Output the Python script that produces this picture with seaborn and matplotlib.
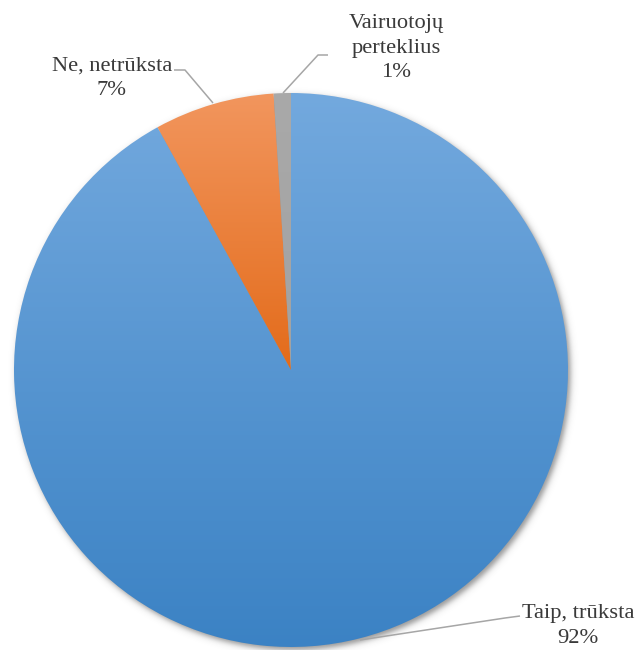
import numpy as np
import matplotlib
matplotlib.use("Agg")
import matplotlib.pyplot as plt
import seaborn as sns
from matplotlib.colors import LinearSegmentedColormap

# Survey answers: is there a shortage of drivers?
labels = ["Taip, trūksta", "Ne, netrūksta", "Vairuotojų\nperteklius"]
shares = [92, 7, 1]
top_colors = ["#73A9DE", "#F2965E", "#A9A9A9"]
bottom_colors = ["#3B82C4", "#E36B1A", "#A2A2A2"]

sns.set_theme(style="white")
plt.rcParams["font.family"] = ["Liberation Serif", "DejaVu Serif"]

W, H = 639, 650
fig = plt.figure(figsize=(W / 100, H / 100), dpi=100)
ax = fig.add_axes([0, 0, 1, 1])

cx, cy, r = 291.0, H - 370.0, 277.0

wedges, _ = ax.pie(
    shares,
    startangle=90,
    counterclock=False,
    center=(cx, cy),
    radius=r,
    wedgeprops=dict(linewidth=0),
)
ax.set_xlim(0, W)
ax.set_ylim(0, H)
ax.set_aspect("equal")
ax.axis("off")

# soft drop shadow under the pie, offset to the lower right
yy, xx = np.mgrid[0:H, 0:W] + 0.5
d = np.hypot(xx - (cx + 2.5), yy - (cy - 3.0))
shadow = 0.55 / (1.0 + np.exp((d - r) / 1.8))
rgba = np.zeros((H, W, 4))
rgba[..., :3] = 0.25
rgba[..., 3] = shadow
ax.imshow(rgba, extent=(0, W, 0, H), origin="lower", zorder=0.5, interpolation="bilinear")

# vertical gradient fill for each wedge
for w, ctop, cbot in zip(wedges, top_colors, bottom_colors):
    w.set_facecolor("none")
    w.set_zorder(1)
    verts = w.get_path().vertices
    y0, y1 = verts[:, 1].min(), verts[:, 1].max()
    x0, x1 = verts[:, 0].min(), verts[:, 0].max()
    cmap = LinearSegmentedColormap.from_list("g", [cbot, ctop])
    grad = np.linspace(0, 1, 256).reshape(-1, 1) * np.ones((1, 2))
    im = ax.imshow(grad, cmap=cmap, extent=(x0 - 1, x1 + 1, y0 - 1, y1 + 1),
                   origin="lower", aspect="auto", zorder=1, interpolation="bilinear")
    im.set_clip_path(w)

ax.set_xlim(0, W)
ax.set_ylim(0, H)

# leader lines (pixel coordinates measured from the top)
leaders = [
    [(520, 616), (505, 618), (360, 640)],
    [(174, 70), (185, 70), (213, 103)],
    [(283, 93), (318, 55), (328, 55)],
]
for pts in leaders:
    xs = [p[0] for p in pts]
    ys = [H - p[1] for p in pts]
    ax.plot(xs, ys, color="#A6A6A6", lw=1.1, zorder=2, solid_capstyle="butt")

label_pos = [(578, 626), (112, 78), (396, 48)]
for lab, val, (lx, ly) in zip(labels, shares, label_pos):
    ax.text(lx, H - ly, f"{lab}\n{val}%", ha="center", va="center",
            multialignment="center", family=["Liberation Serif", "DejaVu Serif"],
            fontsize=16.2, color="#3A3A3A", linespacing=1.38, zorder=3)

fig.savefig("out.png", dpi=100)
